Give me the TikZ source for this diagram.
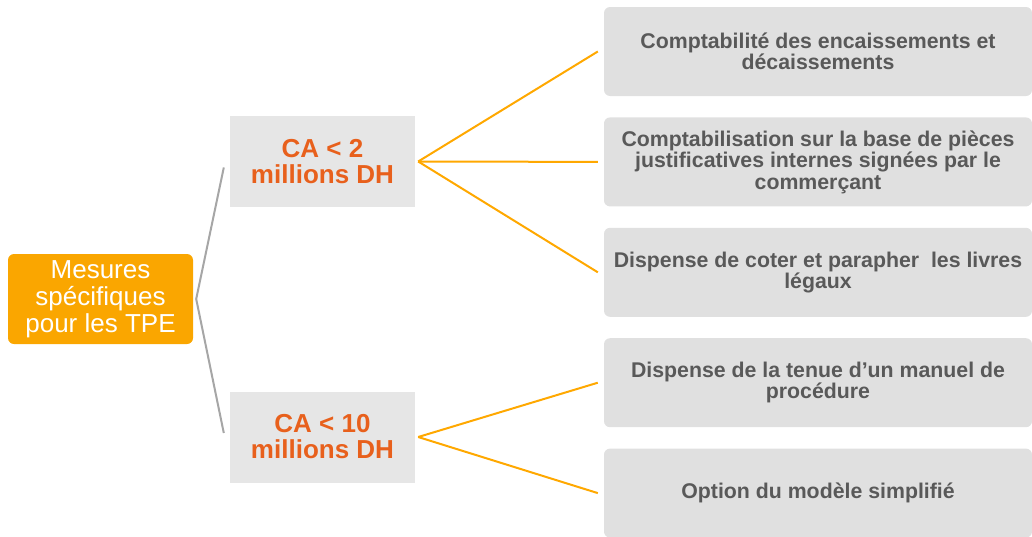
\documentclass[tikz,border=0pt]{standalone}
\usepackage{fontspec}
\setmainfont{Liberation Sans}
\usepackage{xcolor}
\usepackage{tikz}
\usetikzlibrary{positioning, calc}

\definecolor{tpeorange}{RGB}{250,166,0}
\definecolor{caorange}{RGB}{232,96,28}
\definecolor{boxgrey}{RGB}{230,230,230}
\definecolor{leafgrey}{RGB}{224,224,224}
\definecolor{leaftext}{RGB}{89,89,89}
\definecolor{linegrey}{RGB}{166,166,166}
\definecolor{lineorange}{RGB}{255,168,0}

\begin{document}
\begin{tikzpicture}[
    x=1pt, y=-1pt,
    root/.style={rectangle, rounded corners=6pt, fill=tpeorange, text=white, minimum width=185pt, minimum height=90pt, align=center, inner sep=0pt, font=\fontsize{26}{27}\selectfont},
    seuil/.style={rectangle, fill=boxgrey, text=caorange, minimum width=185pt, minimum height=91pt, align=center, inner sep=0pt, font=\fontsize{26}{26}\selectfont\bfseries},
    mesure/.style={rectangle, rounded corners=6pt, fill=leafgrey, text=leaftext, minimum width=428pt, minimum height=89pt, align=center, inner sep=0pt, font=\fontsize{21.3}{21.5}\selectfont\bfseries},
    greyline/.style={draw=linegrey, line width=2pt},
    orangeline/.style={draw=lineorange, line width=2pt}
]
    \useasboundingbox (0,0) rectangle (1032,536);

    % Root
    \node [root] (tpe) at (100.5,299) {Mesures\\spécifiques\\pour les TPE};

    % Thresholds
    \node [seuil] (ca2) at (322.5,161.5) {CA < 2\\millions DH};
    \node [seuil] (ca10) at (322.5,437) {CA < 10\\millions DH};

    % Measures
    \node [mesure] (compta) at (818,51.5) {Comptabilité des encaissements et\\décaissements};
    \node [mesure, below=21pt of compta] (pieces) {Comptabilisation sur la base de pièces\\justificatives internes signées par le\\commerçant};
    \node [mesure, below=21pt of pieces] (coter) {Dispense de coter et parapher\ \ les livres\\légaux};
    \node [mesure, below=21pt of coter] (manuel) {Dispense de la tenue d’un manuel de\\procédure};
    \node [mesure, below=21pt of manuel] (modele) {Option du modèle simplifié};

    % Root to thresholds
    \coordinate (tpehub) at ($(tpe.east)+(3,0)$);
    \draw[greyline] (tpehub) -- ($(ca2.west)+(-6,6)$);
    \draw[greyline] (tpehub) -- ($(ca10.west)+(-6,-4)$);

    % CA < 2 to measures
    \coordinate (ca2hub) at ($(ca2.east)+(3,0)$);
    \draw[orangeline] (ca2hub) -- ($(compta.west)+(-6,0)$);
    \draw[orangeline] (ca2hub) -- ($(pieces.west)+(-6,0)$);
    \draw[orangeline] (ca2hub) -- ($(coter.west)+(-6,0)$);

    % CA < 10 to measures
    \coordinate (ca10hub) at ($(ca10.east)+(3,0)$);
    \draw[orangeline] (ca10hub) -- ($(manuel.west)+(-6,0)$);
    \draw[orangeline] (ca10hub) -- ($(modele.west)+(-6,0)$);
\end{tikzpicture}
\end{document}
